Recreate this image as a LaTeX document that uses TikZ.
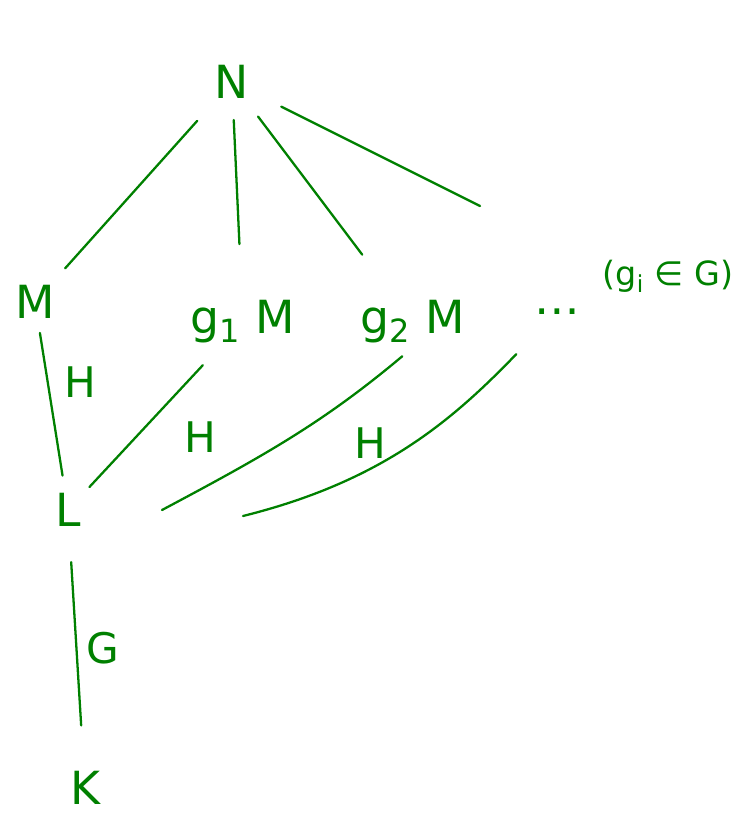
\documentclass[tikz,border=0pt]{standalone}
\usepackage{fontspec}
\setmainfont{DejaVu Sans}
\usepackage{tikz}
\usetikzlibrary{positioning}
\definecolor{pen}{RGB}{0,128,0}
\tikzset{
    obj/.style={text=pen, font=\fontsize{26}{30}\selectfont, inner sep=2pt},
    lbl/.style={text=pen, font=\fontsize{24}{28}\selectfont, inner sep=1pt},
    ink/.style={draw=pen, line width=1.3pt, line cap=round},
}
\begin{document}
\begin{tikzpicture}[x=0.02cm, y=-0.02cm]
    \useasboundingbox (0,0) rectangle (734,821);
    % Objekte
    \node[obj] (N) at (232,82) {N};
    \node[obj] (M) at (35,302) {M};
    \node[obj] (g1M) at (243,322) {g\textsubscript{1} M};
    \node[obj] (g2M) at (413,322) {g\textsubscript{2} M};
    \node[obj] (dots) at (557,312) {\dots};
    \node[obj, font=\fontsize{19}{22}\selectfont] (gi) at (668,276) {(g\textsubscript{i} ∈ G)};
    \node[obj] (L) at (68,510) {L};
    \node[obj] (K) at (85,788) {K};
    % lose Enden
    \coordinate (e1) at (480,206);
    \coordinate (e2) at (162,510);
    \coordinate (e3) at (243,516);
    % oben
    \draw[ink, shorten <=14pt, shorten >=10pt] (N) -- (M);
    \draw[ink, shorten <=10pt, shorten >=30pt] (N) -- (g1M);
    \draw[ink, shorten <=10pt, shorten >=30pt] (N) -- (g2M);
    \draw[ink, shorten <=18pt] (N) -- (e1);
    % unten
    \draw[ink, shorten <=6pt, shorten >=8pt] (M) -- (L);
    \draw[ink, shorten <=14pt, shorten >=4pt] (g1M) -- (L);
    \draw[ink, shorten <=8pt] (g2M.south) to[out=220, in=28] (e2);
    \draw[ink, shorten <=28pt] (dots) to[out=226, in=14] (e3);
    \draw[ink, shorten <=18pt, shorten >=24pt] (L) -- (K);
    % Beschriftungen
    \node[lbl] (h1) at (80,382) {H};
    \node[lbl] (h2) at (200,437) {H};
    \node[lbl] (h3) at (370,443) {H};
    \node[lbl] (gL) at (103,648) {G};
\end{tikzpicture}
\end{document}
